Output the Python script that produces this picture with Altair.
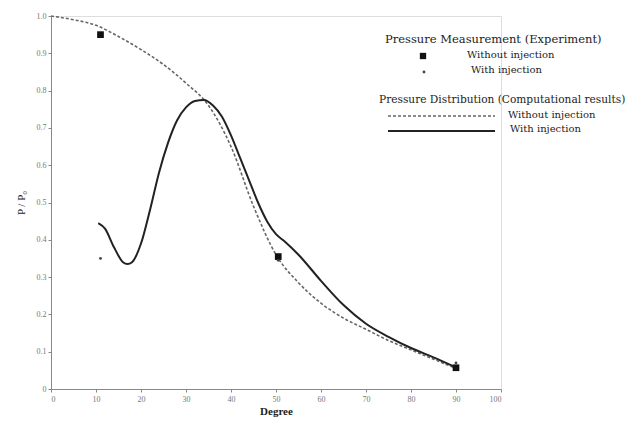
import altair as alt
import pandas as pd

# Computational results, without injection (dashed)
dash_x = [0, 5, 10, 15, 20, 25, 30, 35, 40, 45, 50, 55, 60, 65, 70, 75, 80, 85, 90]
dash_y = [1.0, 0.99, 0.975, 0.945, 0.91, 0.87, 0.82, 0.76, 0.65, 0.49, 0.36, 0.285, 0.23, 0.19, 0.16, 0.13, 0.105, 0.08, 0.055]

# Computational results, with injection (solid)
solid_x = [10.5, 12, 14, 16, 17, 18, 20, 22, 24, 26, 28, 30, 32, 34, 36, 38, 40, 42, 44, 46, 48, 50, 52, 55, 60, 65, 70, 75, 80, 85, 90]
solid_y = [0.445, 0.43, 0.38, 0.34, 0.335, 0.34, 0.39, 0.48, 0.58, 0.66, 0.72, 0.755, 0.772, 0.775, 0.76, 0.73, 0.68, 0.62, 0.56, 0.50, 0.45, 0.415, 0.395, 0.36, 0.29, 0.225, 0.175, 0.14, 0.11, 0.085, 0.058]

# Experiment
exp_without_x = [11, 50.5, 90]
exp_without_y = [0.95, 0.355, 0.057]
exp_with_x = [11, 50.5, 90]
exp_with_y = [0.35, 0.345, 0.07]

# Axis ticks
x_ticks = [0, 10, 20, 30, 40, 50, 60, 70, 80, 90, 100]
y_ticks = [0, 0.1, 0.2, 0.3, 0.4, 0.5, 0.6, 0.7, 0.8, 0.9, 1.0]

FONT = "Liberation Serif"
LFONT = "DejaVu Serif"

df_dash = pd.DataFrame({"x": dash_x, "y": dash_y})
df_solid = pd.DataFrame({"x": solid_x, "y": solid_y})
df_sq = pd.DataFrame({"x": exp_without_x, "y": exp_without_y})
df_dot = pd.DataFrame({"x": exp_with_x, "y": exp_with_y})

xs = alt.Scale(domain=[0, 100], nice=False)
ys = alt.Scale(domain=[0, 1], nice=False)

xaxis = alt.Axis(values=x_ticks, title="Degree", grid=False, labelOverlap=False,
                 labelFont=FONT, labelFontSize=8, labelColor="#777",
                 titleFont=FONT, titleFontSize=11, titleFontWeight="bold", titleColor="#222",
                 titlePadding=2, domainColor="#888", tickColor="#888", tickSize=3, labelPadding=3)
yaxis = alt.Axis(values=y_ticks, title="P / P\u2080", grid=False, labelOverlap=False,
                 labelExpr="datum.value == 0 ? '0' : format(datum.value, '.1f')",
                 labelFont=FONT, labelFontSize=8, labelColor="#777",
                 titleFont=FONT, titleFontSize=11, titleFontWeight="normal", titleColor="#222",
                 titlePadding=10, domainColor="#888", tickColor="#888", tickSize=3)

X = alt.X("x:Q", scale=xs, axis=xaxis)
Y = alt.Y("y:Q", scale=ys, axis=yaxis)

dash = alt.Chart(df_dash).mark_line(color="#666", strokeDash=[3, 2], strokeWidth=1.6, interpolate="monotone").encode(x=X, y=Y)
solid = alt.Chart(df_solid).mark_line(color="#222", strokeWidth=2, interpolate="monotone").encode(x=X, y=Y)
sq = alt.Chart(df_sq).mark_square(color="#111", size=45, opacity=1).encode(x=X, y=Y)
dot = alt.Chart(df_dot).mark_circle(color="#444", size=8, opacity=1).encode(x=X, y=Y)

# Legend (hand-drawn, as in the original figure)
leg_titles = pd.DataFrame({"t": ["Pressure Measurement (Experiment)", "Pressure Distribution (Computational results)"],
                           "px": [334, 328], "py": [24, 84], "fs": [11.5, 10.6]})
leg_items = pd.DataFrame({"t": ["Without injection", "With injection", "Without injection", "With injection"],
                          "px": [416, 420, 457, 459], "py": [39, 54, 99, 113]})

titles = alt.Chart(leg_titles).mark_text(align="left", baseline="middle", font=LFONT, color="#222").encode(
    x=alt.X("px:Q", scale=None), y=alt.Y("py:Q", scale=None), text="t:N",
    size=alt.Size("fs:Q", scale=None, legend=None))
items = alt.Chart(leg_items).mark_text(align="left", baseline="middle", font=LFONT, fontSize=10, color="#222").encode(
    x=alt.X("px:Q", scale=None), y=alt.Y("py:Q", scale=None), text="t:N")
leg_sq = alt.Chart(pd.DataFrame({"a": [0]})).mark_square(color="#111", size=40, opacity=1).encode(
    x=alt.value(372), y=alt.value(40))
leg_dot = alt.Chart(pd.DataFrame({"a": [0]})).mark_circle(color="#444", size=8, opacity=1).encode(
    x=alt.value(373), y=alt.value(56))
leg_dash = alt.Chart(pd.DataFrame({"a": [0]})).mark_rule(color="#666", strokeDash=[3, 2], strokeWidth=1.5).encode(
    x=alt.value(337), x2=alt.value(444), y=alt.value(100))
leg_solid = alt.Chart(pd.DataFrame({"a": [0]})).mark_rule(color="#222", strokeWidth=2).encode(
    x=alt.value(337), x2=alt.value(444), y=alt.value(115))

chart = alt.layer(dash, solid, sq, dot, titles, items, leg_sq, leg_dot, leg_dash, leg_solid).properties(
    width=450, height=373,
    autosize=alt.AutoSizeParams(type="none"),
    padding={"left": 43, "top": 8, "right": 133, "bottom": 31},
).configure_view(stroke=None).configure(background="white")

chart.save("out.html", embed_options={"renderer": "svg", "actions": False})
